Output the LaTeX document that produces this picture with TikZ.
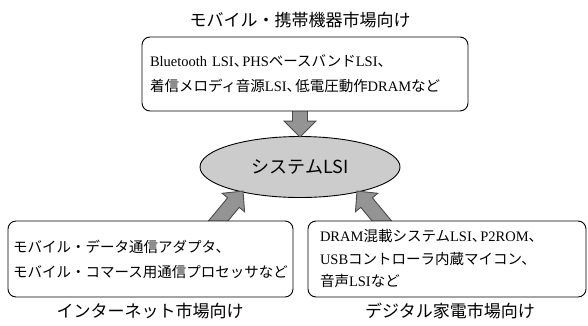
\documentclass[tikz,border=0pt]{standalone}
\usepackage{fontspec}
\setmainfont{Liberation Serif}
\newfontfamily\jp{Noto Sans CJK JP}
\usetikzlibrary{calc,shapes.geometric}
\tikzset{
  box/.style={draw=black, line width=0.9pt, rounded corners=8pt, fill=white,
    align=left, font=\fontsize{14.5}{25}\selectfont, inner ysep=0pt},
  label/.style={font=\jp\fontsize{17}{20}\selectfont, inner sep=0pt},
  sysnode/.style={ellipse, draw=black, line width=0.9pt, fill=black!20,
    minimum width=200pt, minimum height=61pt, inner sep=0pt,
    font=\jp\fontsize{18}{20}\selectfont},
  fat/.style={draw=black!70, line width=0.9pt, fill=black!42, line join=miter}
}
\newcommand\fatarrow[5]{%
  \coordinate (hb) at ($(#2)!#5!(#1)$);
  \path[fat] ($(#1)!#3!90:(#2)$) -- ($(hb)!#3!-90:(#1)$) -- ($(hb)!#4!-90:(#1)$)
    -- (#2) -- ($(hb)!#4!90:(#1)$) -- ($(hb)!#3!90:(#1)$) -- ($(#1)!#3!-90:(#2)$) -- cycle;
}
\newcommand\J[1]{{\jp #1}}
\newcommand\tc{{\jp 、}\kern-6pt}
\begin{document}
\begin{tikzpicture}[x=1pt,y=-1pt]
\useasboundingbox (0,0) rectangle (588,325);
% centre node
\node[sysnode] (sys) at (300,167) {システムLSI};
% arrow end points
\coordinate (topS) at (300,105);
\coordinate (lS) at (214,226);
\coordinate (rS) at (386,226);
\coordinate (topT) at ($(sys.north)+(0,1)$);
\coordinate (lT) at ($(sys.center)+(-57,24)$);
\coordinate (rT) at ($(sys.center)+(57,24)$);
\fatarrow{topS}{topT}{7.5pt}{16pt}{16pt}
\fatarrow{lS}{lT}{7.5pt}{14.5pt}{15pt}
\fatarrow{rS}{rT}{7.5pt}{14.5pt}{15pt}
% boxes
\node[box, minimum width=326pt, minimum height=74pt, text width=310pt, inner xsep=8pt]
  (top) at (305,74) {Bluetooth LSI\tc PHS\J{ベースバンド}LSI\J{、}\\
  \J{着信メロディ音源}LSI\tc\J{低電圧動作}DRAM\J{など}};
\node[box, minimum width=285pt, minimum height=76pt, text width=275pt, inner xsep=5pt]
  (inet) at (150.5,259) {\J{モバイル・データ通信アダプタ、}\\
  \J{モバイル・コマース用通信プロセッサなど}};
\node[box, minimum width=278pt, minimum height=76pt, text width=254pt, inner xsep=12pt,
  font=\fontsize{14.5}{22.5}\selectfont]
  (dig) at (447,259) {DRAM\J{混載システム}LSI\tc P2ROM\J{、}\\
  USB\J{コントローラ内蔵マイコン、}\\
  \J{音声}LSI\J{など}};
% labels
\node[label] (ltop) at (300,20) {モバイル・携帯機器市場向け};
\node[label] (linet) at (150,311) {インターネット市場向け};
\node[label] (ldig) at (450,311) {デジタル家電市場向け};
\end{tikzpicture}
\end{document}
